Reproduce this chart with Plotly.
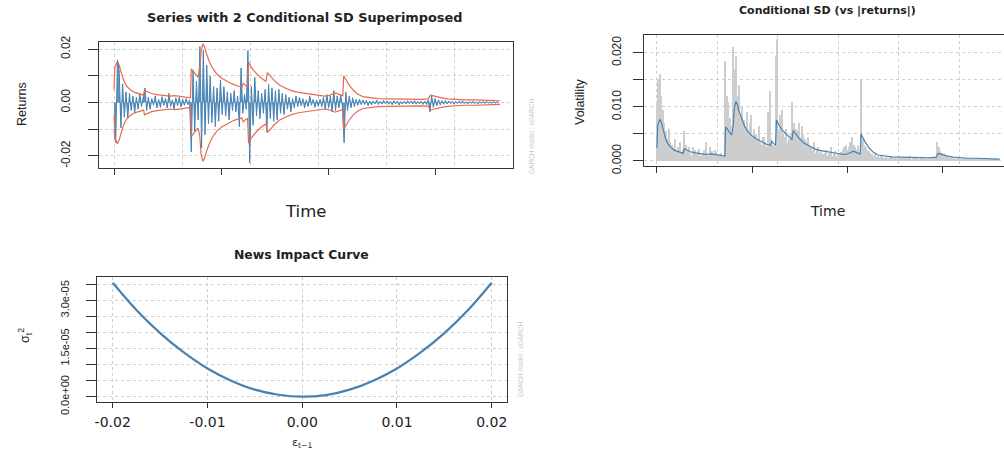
import plotly.graph_objects as go

W, H = 1004, 452

# ---------------- data ----------------
# daily returns, in units of 1/1000, one value every 8 observations
returns_milli = [
    -10.5, -15.0, 16.0, 12.0, -9.5, 7.0, -5.5, 4.0, -6.0, 3.5,
    -3.0, 2.5, -4.0, 2.0, -2.5, 3.5, -1.5, 2.0, 5.5, -3.0,
    2.0, -2.5, 1.5, -1.0, 2.5, -2.0, 1.2, -1.8, 2.2, -1.0,
    1.5, -2.0, 3.5, -1.5, 1.0, -2.5, 1.8, -1.2, 2.0, -1.6,
    1.2, -1.0, 1.5, -0.8, 1.0, -18.5, 12.0, -11.0, 8.0, -6.5,
    21.0, -17.0, 19.5, -12.0, 14.0, -8.0, 10.0, -7.5, 6.0, -9.0,
    5.5, -7.0, 8.5, -4.5, 6.0, -5.0, 4.0, -6.5, 3.5, -3.0,
    4.5, -3.5, 2.5, -9.0, 13.0, -4.0, 3.0, -2.5, 19.5, -22.5,
    6.0, -8.5, 9.5, -5.0, 4.5, -6.0, 3.5, -4.0, 5.0, -11.0,
    7.0, -6.0, 5.5, -7.0, 4.5, -6.5, 5.0, -4.0, 3.5, -4.5,
    3.0, -2.5, 2.0, -3.5, 1.5, -2.0, 2.5, -1.5, 2.0, -1.2,
    1.5, -2.0, 1.0, -1.5, 2.5, -1.0, 1.2, -1.8, 1.0, -1.4,
    1.2, -1.6, 2.0, -2.5, 3.0, -2.0, 2.5, -3.5, 4.5, -3.0,
    2.5, -2.0, 3.0, -1.5, -15.0, 4.0, -3.0, 2.5, -2.0, 1.8,
    -1.5, 1.2, -1.0, 1.3, -0.8, 1.0, -0.7, 0.9, -1.1, 0.6,
    -0.8, 0.6, -0.5, 0.9, -0.7, 0.5, -0.6, 0.8, -0.4, 0.7,
    -0.6, 0.5, -0.8, 0.7, -0.5, 0.6, -0.9, 0.4, -0.6, 0.5,
    -0.5, 0.7, -0.4, 0.6, -0.5, 0.8, -0.6, 0.4, -0.5, 0.6,
    -0.7, 0.6, -0.8, 1.0, -3.5, 2.5, -1.8, 1.5, -1.2, 1.0,
    -0.9, 0.7, -0.6, 0.8, -0.5, 0.6, -0.4, 0.5, -0.6, 0.4,
    -0.4, 0.5, -0.3, 0.6, -0.4, 0.3, -0.5, 0.4, -0.3, 0.5,
    -0.4, 0.3, -0.5, 0.4, -0.3, 0.4, -0.3, 0.5, -0.2, 0.3,
    -0.3, 0.4, -0.2, 0.3, -0.2,
]
ret_step = 8
ret_time = [i * ret_step for i in range(len(returns_milli))]

# conditional standard deviation, in units of 1/1000, at observation index
sd_time = [
    0, 4, 10, 16, 24, 32, 42, 55, 70, 90, 110, 130, 138, 142, 155, 175, 200,
    230, 260, 285, 310, 335, 356, 360, 368, 380, 392, 400, 406, 414, 422, 432,
    445, 460, 480, 500, 525, 550, 575, 595, 602, 612, 622, 627, 640, 660, 680,
    700, 708, 714, 725, 745, 770, 800, 830, 860, 890, 920, 950, 980, 1000,
    1015, 1030, 1050, 1066, 1070, 1080, 1095, 1115, 1135, 1160, 1190, 1230,
    1280, 1330, 1380, 1430, 1465, 1474, 1485, 1500, 1525, 1555, 1590, 1630,
    1680, 1720, 1760, 1798,
]
sd_milli = [
    2.4, 6.6, 7.2, 7.7, 7.0, 5.8, 4.5, 3.3, 2.6, 2.0, 1.7, 1.5, 1.4, 2.3, 2.0,
    1.7, 1.5, 1.3, 1.2, 1.3, 1.2, 1.0, 0.9, 6.3, 6.0, 5.3, 4.8, 6.5, 9.8, 11.0,
    10.4, 9.0, 7.6, 6.4, 5.3, 4.6, 4.0, 3.5, 3.1, 2.9, 3.6, 3.2, 2.9, 7.6, 6.6,
    5.6, 4.8, 4.2, 4.0, 5.6, 5.2, 4.2, 3.3, 2.7, 2.2, 1.9, 1.7, 1.5, 1.3, 1.2,
    1.3, 1.6, 1.8, 1.5, 1.3, 5.0, 4.3, 3.3, 2.3, 1.6, 1.1, 0.9, 0.75, 0.7,
    0.65, 0.6, 0.6, 0.7, 1.4, 1.3, 1.1, 0.9, 0.7, 0.55, 0.5, 0.5, 0.45, 0.4,
    0.35,
]

# news impact curve
nic_eps = [-0.020, -0.0175, -0.015, -0.0125, -0.010, -0.0075, -0.005, -0.0025,
           0.0, 0.0025, 0.005, 0.0075, 0.010, 0.0125, 0.015, 0.0175, 0.020]
nic_sigma2 = [3.55e-5, 2.70e-5, 1.98e-5, 1.38e-5, 0.88e-5, 0.50e-5, 0.22e-5,
              0.06e-5, 0.0, 0.05e-5, 0.22e-5, 0.50e-5, 0.88e-5, 1.38e-5,
              1.98e-5, 2.70e-5, 3.55e-5]

time_ticks = [0, 500, 1000, 1500]
time_grid = [0, 317, 634, 951, 1268, 1585]
ret_ticks = [-0.02, 0.0, 0.02]
ret_ticktext = ["-0.02", "0.00", "0.02"]
ret_minor = [-0.01, 0.01]
vol_ticks = [0.0, 0.010, 0.020]
vol_ticktext = ["0.000", "0.010", "0.020"]
vol_minor = [0.005, 0.015]
nic_xticks = [-0.02, -0.01, 0.0, 0.01, 0.02]
nic_xticktext = ["-0.02", "-0.01", "0.00", "0.01", "0.02"]
nic_yticks = [0.0, 1.5e-5, 3.0e-5]
nic_yticktext = ["0.0e+00", "1.5e-05", "3.0e-05"]
nic_yminor = [0.5e-5, 1.0e-5, 2.0e-5, 2.5e-5, 3.5e-5]

# ---------------- derived ----------------
returns = [v / 1000 for v in returns_milli]
abs_returns = [abs(v) for v in returns]
sd = [v / 1000 for v in sd_milli]
upper = [2 * s for s in sd]
lower = [-2 * s for s in sd]

STEEL = "#4682B4"
TOMATO = "#E8694D"
GRID = "#CFCFCF"
FRAME = "#333333"
ARIAL = "Liberation Sans, Arial, sans-serif"
WIDE = "DejaVu Sans, Liberation Sans, Arial, sans-serif"


def px_x(p):
    return p / W


def px_y(p):
    return 1 - p / H


fig = go.Figure()

# panel 1
fig.add_trace(go.Scatter(x=ret_time, y=returns, mode="lines",
                         line=dict(color=STEEL, width=1),
                         fill="tozeroy", fillcolor="rgba(70,130,180,0.85)",
                         xaxis="x", yaxis="y"))
fig.add_trace(go.Scatter(x=sd_time, y=upper, mode="lines",
                         line=dict(color=TOMATO, width=1.2), xaxis="x", yaxis="y"))
fig.add_trace(go.Scatter(x=sd_time, y=lower, mode="lines",
                         line=dict(color=TOMATO, width=1.2), xaxis="x", yaxis="y"))

# panel 2
fig.add_trace(go.Bar(x=ret_time, y=abs_returns, width=ret_step,
                     marker=dict(color="#CDCDCD", line=dict(width=0)),
                     xaxis="x2", yaxis="y2"))
fig.add_trace(go.Scatter(x=sd_time, y=sd, mode="lines",
                         line=dict(color=STEEL, width=1.2), xaxis="x2", yaxis="y2"))

# panel 3
fig.add_trace(go.Scatter(x=nic_eps, y=nic_sigma2, mode="lines",
                         line=dict(color=STEEL, width=2.2, shape="spline"),
                         xaxis="x3", yaxis="y3"))

common_grid = dict(showgrid=True, gridcolor=GRID, griddash="dot", gridwidth=1,
                   zeroline=False, showline=True, linecolor=FRAME, linewidth=1,
                   automargin=False)

time_axis = dict(tickmode="array", tickvals=time_grid, showticklabels=False,
                 ticks="", **common_grid,
                 minor=dict(tickmode="array", tickvals=time_ticks, ticks="outside",
                            ticklen=6, tickcolor=FRAME, tickwidth=1, showgrid=False))


def ytick_style(size, minor_vals):
    return dict(tickangle=-90, ticks="outside", ticklen=10, tickcolor=FRAME,
                tickfont=dict(family=ARIAL, size=size, color="#222222"),
                minor=dict(tickmode="array", tickvals=minor_vals, ticks="outside",
                           ticklen=10, tickcolor=FRAME, tickwidth=1,
                           showgrid=True, gridcolor=GRID, griddash="dot",
                           gridwidth=1))


fig.update_layout(
    width=W, height=H, margin=dict(l=0, r=0, t=0, b=0, autoexpand=False),
    paper_bgcolor="white", plot_bgcolor="white", showlegend=False,
    bargap=0,
    xaxis=dict(domain=[px_x(99), px_x(513)], range=[-70, 1859], mirror=True,
               anchor="y", **time_axis),
    yaxis=dict(domain=[px_y(168), px_y(42)], range=[-0.0245, 0.0227],
               tickmode="array", tickvals=ret_ticks, ticktext=ret_ticktext,
               mirror=True, anchor="x", ticklabelstandoff=13,
               **ytick_style(12, ret_minor), **common_grid),
    xaxis2=dict(domain=[px_x(644), 1.0], range=[-68, 1820], mirror=True,
                anchor="y2", **time_axis),
    yaxis2=dict(domain=[px_y(166), px_y(35)], range=[-0.00093, 0.0233],
                tickmode="array", tickvals=vol_ticks, ticktext=vol_ticktext,
                mirror=False, anchor="x2", ticklabelstandoff=7,
                **ytick_style(12, vol_minor), **common_grid),
    xaxis3=dict(domain=[px_x(97), px_x(507)], range=[-0.02166, 0.02161],
                tickmode="array", tickvals=nic_xticks, ticktext=nic_xticktext,
                ticks="outside", ticklen=5, tickcolor=FRAME, mirror=True,
                anchor="y3", ticklabelstandoff=2,
                tickfont=dict(family=WIDE, size=14, color="#222222"),
                **common_grid),
    yaxis3=dict(domain=[px_y(401.7), px_y(276.7)], range=[-1.56e-6, 3.74e-5],
                tickmode="array", tickvals=nic_yticks, ticktext=nic_yticktext,
                mirror=True, anchor="x3", ticklabelstandoff=13,
                **ytick_style(11, nic_yminor), **common_grid),
)


def note(text, x, y, size, family=WIDE, bold=False, angle=0, color="#222222"):
    fig.add_annotation(text=f"<b>{text}</b>" if bold else text,
                       x=px_x(x), y=px_y(y), xref="paper", yref="paper",
                       xanchor="center", yanchor="middle", showarrow=False,
                       textangle=angle, font=dict(family=family, size=size, color=color))


note("Series with 2 Conditional SD Superimposed", 305, 17, 12.9, bold=True)
note("Conditional SD (vs |returns|)", 827, 11, 11, bold=True)
note("News Impact Curve", 301, 254, 12.4, bold=True)
note("Time", 305, 211, 16.5)
note("Time", 827, 211, 14)
note("Returns", 22, 104, 12.5, family=ARIAL, angle=-90)
note("Volatility", 580, 102, 12.5, family=ARIAL, angle=-90)
note("σ<sub>t</sub><sup>2</sup>", 25, 336, 12.5, family=ARIAL, angle=-90)
note("ε<sub>t−1</sub>", 302, 443, 11)
note("GARCH model : sGARCH", 531, 137, 6.5, family=ARIAL, angle=-90, color="#C8C8C8")
note("GARCH model : sGARCH", 520, 360, 6.5, family=ARIAL, angle=-90, color="#C8C8C8")

fig.write_html("out.html")
